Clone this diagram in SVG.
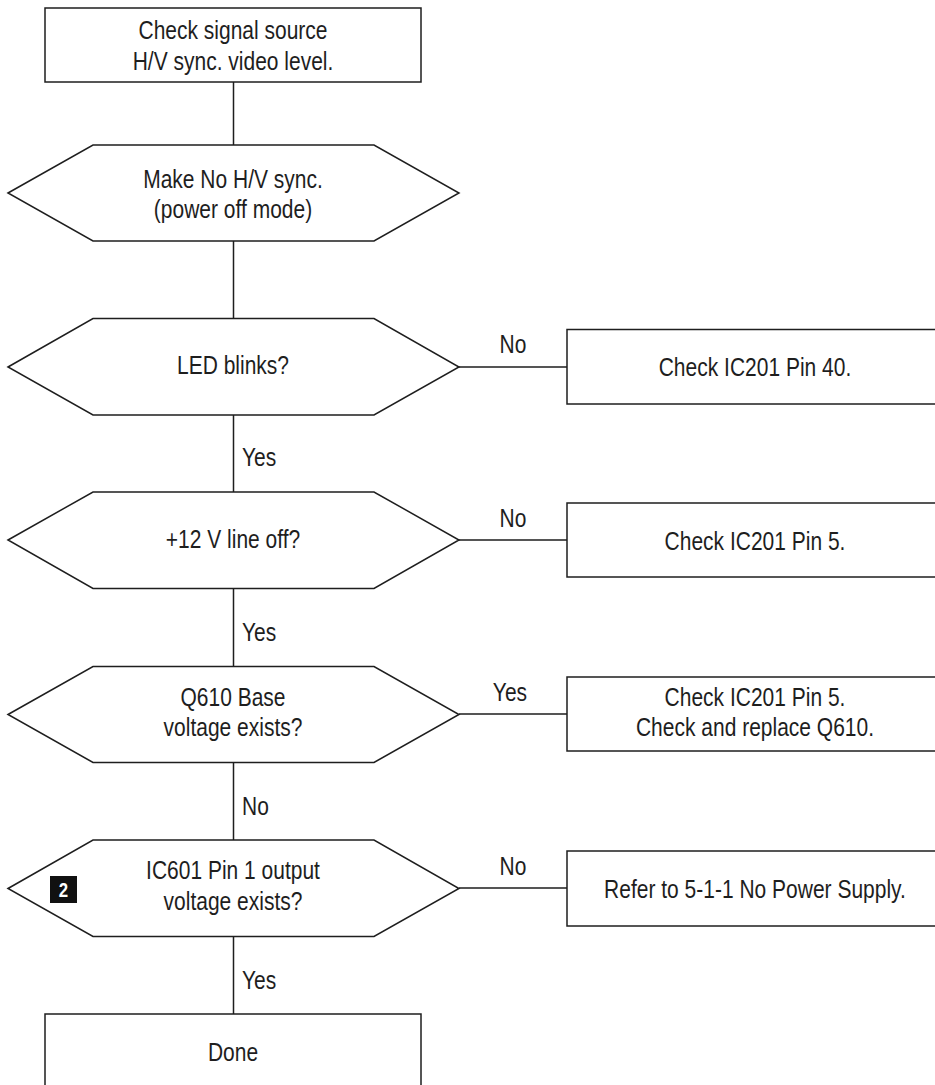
<svg xmlns="http://www.w3.org/2000/svg" width="935" height="1085" viewBox="0 0 935 1085">
<style>
.s{fill:#fff;stroke:#1e1e1e;stroke-width:1.5}
.c{fill:none;stroke:#1e1e1e;stroke-width:1.5}
text{font-family:"Liberation Sans",Arial,sans-serif;font-size:25px;fill:#1e1e1e;transform:scale(0.84,1)}
.m{text-anchor:middle}
.b{font-weight:bold;font-size:20px;fill:#fff}
</style>
<rect width="935" height="1085" fill="#fff"/>
<g id="connectors">
<path class="c" d="M233.5,82V145M233.5,241V318M233.5,415V492M233.5,588V666M233.5,762V840M233.5,936V1014"/>
<path class="c" d="M459,367H567M459,540H567M459,714H567M459,888H567"/>
<text x="610.7" y="353" class="m">No</text>
<text x="610.7" y="527" class="m">No</text>
<text x="607.1" y="701" class="m">Yes</text>
<text x="610.7" y="875" class="m">No</text>
<text x="288.1" y="466">Yes</text>
<text x="288.1" y="641">Yes</text>
<text x="288.1" y="815">No</text>
<text x="288.1" y="989">Yes</text>
</g>
<g id="start">
<rect class="s" x="45" y="8" width="376" height="74"/>
<text x="277.4" y="39" class="m">Check signal source</text>
<text x="277.4" y="70" class="m">H/V sync. video level.</text>
</g>
<g id="d1">
<polygon class="s" points="8,193 93,145 374,145 459,193 374,241 93,241"/>
<text x="277.4" y="188" class="m">Make No H/V sync.</text>
<text x="277.4" y="218" class="m">(power off mode)</text>
</g>
<g id="d2">
<polygon class="s" points="8,367 93,318.5 374,318.5 459,367 374,415 93,415"/>
<text x="277.4" y="374" class="m">LED blinks?</text>
</g>
<g id="r2">
<rect class="s" x="567" y="329.5" width="390" height="74.5"/>
<text x="898.8" y="376" class="m">Check IC201 Pin 40.</text>
</g>
<g id="d3">
<polygon class="s" points="8,540 93,492 374,492 459,540 374,588.5 93,588.5"/>
<text x="277.4" y="548" class="m">+12 V line off?</text>
</g>
<g id="r3">
<rect class="s" x="567" y="503" width="390" height="74"/>
<text x="898.8" y="550" class="m">Check IC201 Pin 5.</text>
</g>
<g id="d4">
<polygon class="s" points="8,714.5 93,666.5 374,666.5 459,714.5 374,762.5 93,762.5"/>
<text x="277.4" y="706" class="m">Q610 Base</text>
<text x="277.4" y="736.5" class="m">voltage exists?</text>
</g>
<g id="r4">
<rect class="s" x="567" y="677" width="390" height="74"/>
<text x="898.8" y="706.5" class="m">Check IC201 Pin 5.</text>
<text x="898.8" y="736.5" class="m">Check and replace Q610.</text>
</g>
<g id="d5">
<polygon class="s" points="8,888.5 93,840 374,840 459,888.5 374,936.5 93,936.5"/>
<text x="277.4" y="879" class="m">IC601 Pin 1 output</text>
<text x="277.4" y="910" class="m">voltage exists?</text>
<rect x="50" y="876" width="27" height="27" fill="#111"/>
<text x="75.6" y="897" class="m b">2</text>
</g>
<g id="r5">
<rect class="s" x="567" y="851" width="390" height="75"/>
<text x="898.8" y="898" class="m">Refer to 5-1-1 No Power Supply.</text>
</g>
<g id="done">
<rect class="s" x="45" y="1014" width="376" height="90"/>
<text x="277.4" y="1061" class="m">Done</text>
</g>
</svg>
